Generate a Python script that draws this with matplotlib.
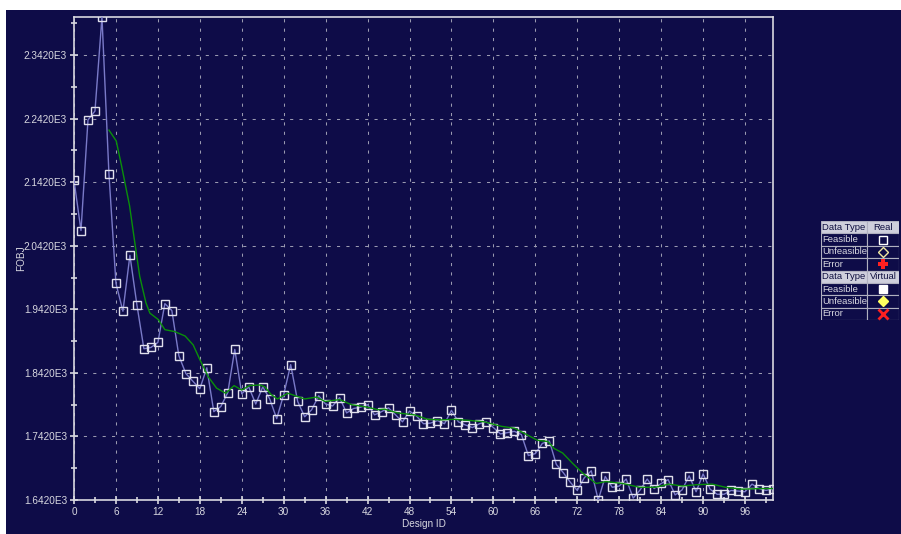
import matplotlib
matplotlib.use("Agg")
import matplotlib.pyplot as plt
from matplotlib.patches import Rectangle
from matplotlib.ticker import MultipleLocator, FixedLocator, FuncFormatter

plt.rcParams['font.family'] = ['Liberation Sans', 'DejaVu Sans']

# design history: objective value for each design id
design_id = list(range(0, 101))
fobj = [2145, 2066, 2240, 2254, 2402, 2155, 1983, 1939, 2027, 1949,
        1880, 1882, 1890, 1951, 1940, 1869, 1841, 1829, 1817, 1850,
        1781, 1789, 1811, 1879, 1809, 1820, 1793, 1820, 1801, 1770,
        1808, 1855, 1797, 1773, 1784, 1806, 1793, 1790, 1803, 1779,
        1786, 1788, 1792, 1776, 1781, 1787, 1776, 1765, 1782, 1774,
        1762, 1763, 1767, 1762, 1783, 1765, 1760, 1756, 1762, 1765,
        1756, 1746, 1748, 1750, 1745, 1712, 1715, 1731, 1735, 1698,
        1685, 1670, 1657, 1677, 1688, 1642, 1679, 1662, 1664, 1675,
        1645, 1658, 1675, 1660, 1668, 1674, 1650, 1658, 1680, 1655,
        1683, 1659, 1651, 1651, 1657, 1656, 1655, 1667, 1660, 1657,
        1660]

# smoothed trend (green)
trend_x = [5, 6.04, 6.8, 7.95, 8.7, 9.4, 10.3, 10.86, 12.05, 13, 14.4, 15.9,
           17.05, 18, 19.2, 20.4, 21.7, 22.9, 24, 25.1, 26.6, 27.3, 28.2,
           29.1, 30.6, 33, 34.7, 35.9, 38, 39.7, 42, 43.5, 44.4, 46.3, 48.7,
           50.6, 52.5, 54.4, 56.8, 58.7, 61.1, 63, 64.4, 66.3, 67.8, 68.7,
           69.9, 71.3, 72.8, 74.7, 76.1, 78.5, 80.9, 83.2, 85.1, 87, 89,
           91.3, 93.2, 95.6, 98, 100]
trend_y = [2224, 2207, 2168, 2105, 2047, 1994, 1952, 1936, 1926, 1910, 1907,
           1900, 1886, 1863, 1836, 1818, 1810, 1822, 1815, 1822, 1823, 1820,
           1808, 1801, 1810, 1801, 1804, 1797, 1800, 1792, 1788, 1784, 1785,
           1779, 1776, 1769, 1768, 1769, 1767, 1765, 1758, 1755, 1747, 1736,
           1734, 1723, 1716, 1700, 1684, 1668, 1671, 1668, 1662, 1662, 1667,
           1664, 1666, 1667, 1662, 1659, 1660, 1660]

x_ticks = list(range(0, 97, 6))
y_ticks = [1642, 1742, 1842, 1942, 2042, 2142, 2242, 2342]

legend_rows = [("Data Type", "Real"), ("Feasible", "sq"), ("Unfeasible", "dia"),
               ("Error", "plus"), ("Data Type", "Virtual"), ("Feasible", "sqf"),
               ("Unfeasible", "diaf"), ("Error", "x")]

navy = "#0e0c48"
fg = "#d8d8e0"

fig = plt.figure(figsize=(9.01, 5.34), dpi=100, facecolor="white")
fig.patches.append(Rectangle((6 / 901, 0), 1, 1 - 10 / 534, transform=fig.transFigure,
                             facecolor=navy, edgecolor="none", zorder=-10))

ax = fig.add_axes([74 / 901, 1 - 500 / 534, 699 / 901, 483 / 534])
ax.set_facecolor(navy)

ax.plot(design_id, fobj, color="#7a7ac8", lw=1.0, marker="s", ms=6,
        mfc="none", mec="#e0e0ec", mew=1.0, zorder=3)
ax.plot(trend_x, trend_y, color="#0a900a", lw=1.0, zorder=4)

ax.set_xlim(0, 100)
ax.set_ylim(1642, 2402)
ax.xaxis.set_major_locator(FixedLocator(x_ticks))
ax.xaxis.set_minor_locator(MultipleLocator(3))
ax.yaxis.set_major_locator(FixedLocator(y_ticks))
ax.yaxis.set_minor_locator(FixedLocator([v + 50 for v in y_ticks]))
ax.yaxis.set_major_formatter(FuncFormatter(lambda v, p: "%.4fE3" % (v / 1000)))

ax.grid(True, which="major", color="#9a9ab0", lw=0.75, linestyle=(0, (3, 6)))
for s in ax.spines.values():
    s.set_color(fg)
    s.set_linewidth(1.2)
ax.tick_params(which="major", direction="inout", length=6, width=1.2, color=fg,
               labelcolor=fg, labelsize=7.2, pad=2)
ax.tick_params(which="minor", direction="inout", length=5, width=1.2, color=fg)

ax.set_xlabel("Design ID", color=fg, fontsize=7.2)
ax.set_ylabel("FOBJ", color=fg, fontsize=7.2)
ax.xaxis.set_label_coords(0.5, -0.039)
ax.yaxis.set_label_coords(-0.068, 0.5)

# symbol legend table on the right
lg = fig.add_axes([821 / 901, 1 - 320 / 534, 78 / 901, 99 / 534])
lg.set_xlim(0, 78)
lg.set_ylim(99, 0)
lg.axis("off")
row_h = 99 / 8
c1 = 46
for i, (name, sym) in enumerate(legend_rows):
    y0 = i * row_h
    head = name == "Data Type"
    bg = "#cfcfdc" if head else navy
    tc = "#101040" if head else fg
    lg.add_patch(Rectangle((0, y0), c1, row_h, facecolor=bg, edgecolor="#b0b0c0", lw=0.8))
    lg.add_patch(Rectangle((c1, y0), 78 - c1, row_h, facecolor=bg, edgecolor="#b0b0c0", lw=0.8))
    lg.text(1.5, y0 + row_h / 2, name, color=tc, fontsize=6.8, va="center", ha="left")
    cx, cy = c1 + (78 - c1) / 2, y0 + row_h / 2
    if head:
        lg.text(cx, cy, sym, color=tc, fontsize=6.8, va="center", ha="center")
    elif sym == "sq":
        lg.plot(cx, cy, marker="s", ms=6, mfc="none", mec="white", mew=1)
    elif sym == "dia":
        lg.plot(cx, cy, marker="D", ms=5, mfc="none", mec="#f0e8a0", mew=1)
    elif sym == "plus":
        lg.plot(cx, cy, marker="P", ms=7, color="#ff2020", mew=0)
    elif sym == "sqf":
        lg.plot(cx, cy, marker="s", ms=6, color="white")
    elif sym == "diaf":
        lg.plot(cx, cy, marker="D", ms=5, color="#ffff60")
    elif sym == "x":
        lg.plot(cx, cy, marker="x", ms=7, color="#ff2020", mew=2)

fig.savefig("out.png", dpi=100, facecolor=fig.get_facecolor())
